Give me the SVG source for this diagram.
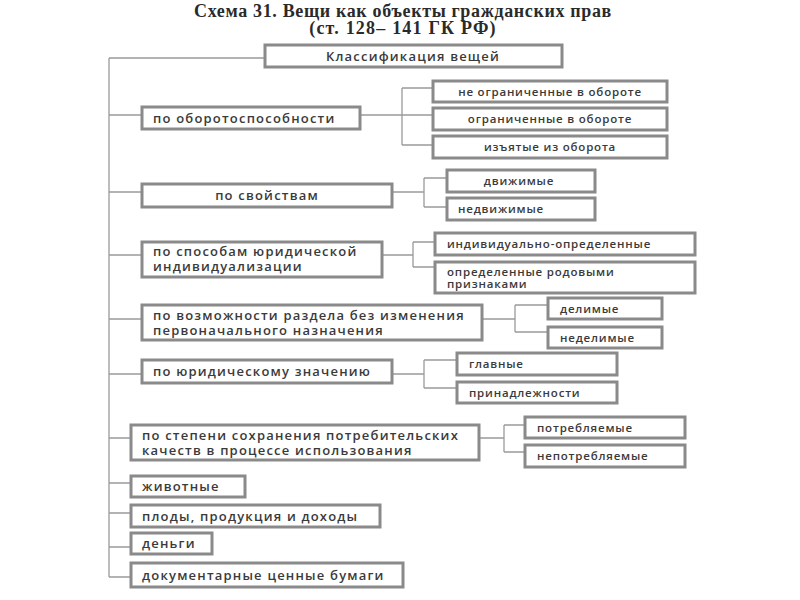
<svg xmlns="http://www.w3.org/2000/svg" width="800" height="600" viewBox="0 0 800 600">
<style>
.title{font-family:"Liberation Serif","Times New Roman",serif;font-weight:bold;font-size:18px;fill:#2a2a2a;text-anchor:middle}
.box{fill:#fff;stroke:#8a8a8a;stroke-width:3}
.t{font-family:"Open Sans","DejaVu Sans",sans-serif;font-weight:600;font-size:13px;fill:#3a3a3a;letter-spacing:1.2px}
.s{font-family:"Open Sans","DejaVu Sans",sans-serif;font-weight:600;font-size:11.5px;fill:#3a3a3a;letter-spacing:0.8px}
.c{text-anchor:middle}
.ln{fill:none;stroke:#9a9a9a;stroke-width:1.3}
</style>
<text class="title" x="403" y="17" style="letter-spacing:0.65px">Схема 31. Вещи как объекты гражданских прав</text>
<text class="title" x="403" y="34" style="letter-spacing:1.2px">(ст. 128– 141 ГК РФ)</text>

<g id="connectors">
<path class="ln" d="M109,58 V577"/>
<path class="ln" d="M109,58 H265"/>
<path class="ln" d="M109,115 H142 M360,115 H433 M402,88 V145 M402,88 H433 M402,145 H433"/>
<path class="ln" d="M109,192 H142 M392,192 H424 M424,178 V207 M424,178 H447 M424,207 H447"/>
<path class="ln" d="M109,255 H142 M382,255 H413 M413,242 V267 M413,242 H435 M413,267 H435"/>
<path class="ln" d="M109,319 H142 M482,319 H515 M515,305 V332 M515,305 H548 M515,332 H548"/>
<path class="ln" d="M109,374 H142 M392,374 H424 M424,360 V388 M424,360 H457 M424,388 H457"/>
<path class="ln" d="M109,438 H131 M479,438 H504 M504,425 V452 M504,425 H525 M504,452 H525"/>
<path class="ln" d="M109,483 H131 M109,513 H131 M109,547 H131 M109,577 H131"/>
</g>

<g id="root"><rect class="box" x="265" y="45" width="297" height="22"/><text class="t c" x="413" y="60.5">Классификация  вещей</text></g>

<g id="n1"><rect class="box" x="142" y="107" width="218" height="22"/><text class="t" x="153" y="122.5">по оборотоспособности</text></g>
<g id="n1a"><rect class="box" x="433" y="81" width="234" height="21"/><text class="s c" x="550" y="95.5">не ограниченные в обороте</text></g>
<g id="n1b"><rect class="box" x="433" y="108" width="234" height="22"/><text class="s c" x="550" y="123">ограниченные в обороте</text></g>
<g id="n1c"><rect class="box" x="433" y="136" width="234" height="22"/><text class="s c" x="550" y="151">изъятые из оборота</text></g>

<g id="n2"><rect class="box" x="142" y="184" width="250" height="23"/><text class="t c" x="267" y="199.5">по свойствам</text></g>
<g id="n2a"><rect class="box" x="447" y="170" width="148" height="22"/><text class="s c" x="519" y="185">движимые</text></g>
<g id="n2b"><rect class="box" x="447" y="198" width="148" height="22"/><text class="s" x="458" y="213">недвижимые</text></g>

<g id="n3"><rect class="box" x="142" y="242" width="240" height="35"/><text class="t"><tspan x="153" y="256">по способам юридической</tspan><tspan x="153" y="271">индивидуализации</tspan></text></g>
<g id="n3a"><rect class="box" x="435" y="233" width="260" height="22"/><text class="s" x="447" y="248">индивидуально-определенные</text></g>
<g id="n3b"><rect class="box" x="435" y="262" width="260" height="31"/><text class="s"><tspan x="447" y="275.5">определенные родовыми</tspan><tspan x="447" y="288">признаками</tspan></text></g>

<g id="n4"><rect class="box" x="142" y="305" width="340" height="35"/><text class="t"><tspan x="153" y="320">по возможности раздела без изменения</tspan><tspan x="153" y="335">первоначального назначения</tspan></text></g>
<g id="n4a"><rect class="box" x="548" y="298" width="114" height="21"/><text class="s" x="560" y="312.5">делимые</text></g>
<g id="n4b"><rect class="box" x="548" y="327" width="114" height="21"/><text class="s" x="560" y="341.5">неделимые</text></g>

<g id="n5"><rect class="box" x="142" y="360" width="250" height="23"/><text class="t" x="153" y="375.5">по юридическому значению</text></g>
<g id="n5a"><rect class="box" x="457" y="353" width="160" height="22"/><text class="s" x="469" y="368">главные</text></g>
<g id="n5b"><rect class="box" x="457" y="382" width="160" height="21"/><text class="s" x="469" y="396.5">принадлежности</text></g>

<g id="n6"><rect class="box" x="131" y="425" width="348" height="35"/><text class="t"><tspan x="142" y="440">по степени сохранения потребительских</tspan><tspan x="142" y="455">качеств в процессе использования</tspan></text></g>
<g id="n6a"><rect class="box" x="525" y="417" width="160" height="21"/><text class="s" x="537" y="431.5">потребляемые</text></g>
<g id="n6b"><rect class="box" x="525" y="445" width="160" height="22"/><text class="s" x="537" y="460">непотребляемые</text></g>

<g id="n7"><rect class="box" x="131" y="476" width="114" height="21"/><text class="t" x="142" y="491">животные</text></g>
<g id="n8"><rect class="box" x="131" y="505" width="249" height="22"/><text class="t" x="142" y="520.5">плоды, продукция и доходы</text></g>
<g id="n9"><rect class="box" x="131" y="533" width="81" height="21"/><text class="t" x="142" y="548">деньги</text></g>
<g id="n10"><rect class="box" x="131" y="563" width="272" height="24"/><text class="t" x="142" y="579.5">документарные ценные бумаги</text></g>
</svg>
